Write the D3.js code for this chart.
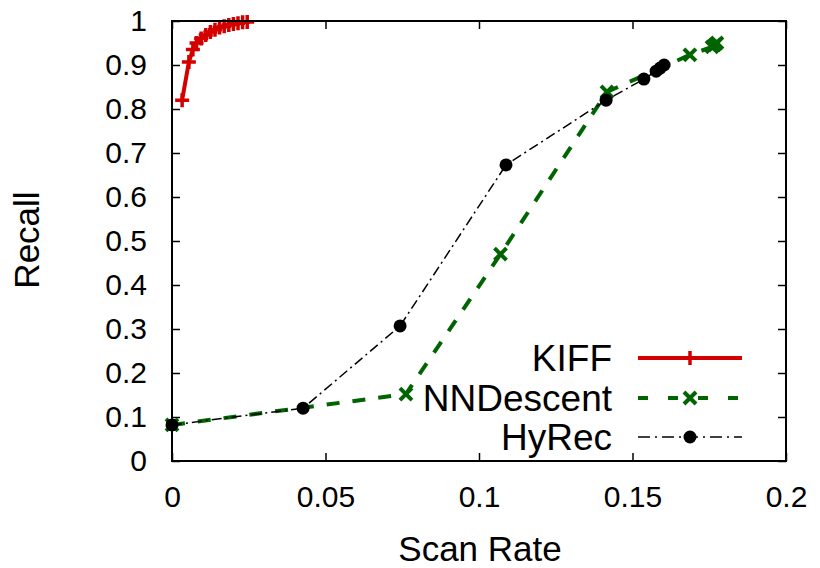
<!DOCTYPE html>
<html><head><meta charset="utf-8">
<script src="https://cdn.jsdelivr.net/npm/d3@7"></script>
<style>body{margin:0;background:#fff}text{font-family:"Liberation Sans",Arial,Helvetica,sans-serif}</style>
</head><body>
<svg id="c" width="820" height="568"></svg>
<script>
const kiffX = [0.0033,0.0055,0.0068,0.008,0.0095,0.011,0.0125,0.014,0.0155,0.017,0.0185,0.02,0.0215,0.023,0.0245];
const kiffY = [0.82,0.907,0.935,0.95,0.96,0.968,0.975,0.98,0.985,0.988,0.991,0.993,0.995,0.997,0.998];
const nndX = [0.0,0.0762,0.107,0.1417,0.1687,0.1759,0.1768,0.1775];
const nndY = [0.082,0.152,0.47,0.839,0.923,0.941,0.946,0.95];
const hyrecX = [0.0,0.0427,0.0743,0.1088,0.1414,0.1537,0.1577,0.159,0.1603];
const hyrecY = [0.082,0.12,0.307,0.673,0.82,0.868,0.886,0.893,0.9];
const xTicks = [0,0.05,0.1,0.15,0.2];
const yTicks = [0,0.1,0.2,0.3,0.4,0.5,0.6,0.7,0.8,0.9,1];
const seriesNames = ["KIFF","NNDescent","HyRec"];

const svg = d3.select("#c");
const L=172,R=786,T=21,B=461;
const x = d3.scaleLinear().domain([0,0.2]).range([L,R]);
const y = d3.scaleLinear().domain([0,1]).range([B,T]);
const fmt = d => String(+d.toFixed(2));

const tl=8;
const g = svg.append("g");
g.append("g").attr("transform",`translate(0,${B})`)
 .call(d3.axisBottom(x).tickValues(xTicks).tickSize(-tl).tickPadding(23).tickFormat(fmt))
 .call(s=>{s.select(".domain").remove();s.selectAll("line").attr("stroke","#000").attr("stroke-width",1.5);
   s.selectAll("text").attr("font-size",30).attr("fill","#000").attr("dy","0.75em");});
g.append("g").attr("transform",`translate(0,${T})`)
 .call(d3.axisTop(x).tickValues(xTicks).tickSize(-tl).tickFormat(""))
 .call(s=>{s.select(".domain").remove();s.selectAll("line").attr("stroke","#000").attr("stroke-width",1.5);});
g.append("g").attr("transform",`translate(${L},0)`)
 .call(d3.axisLeft(y).tickValues(yTicks).tickSize(-tl).tickPadding(25).tickFormat(fmt))
 .call(s=>{s.select(".domain").remove();s.selectAll("line").attr("stroke","#000").attr("stroke-width",1.5);
   s.selectAll("text").attr("font-size",30).attr("fill","#000");});
g.append("g").attr("transform",`translate(${R},0)`)
 .call(d3.axisRight(y).tickValues(yTicks).tickSize(-tl).tickFormat(""))
 .call(s=>{s.select(".domain").remove();s.selectAll("line").attr("stroke","#000").attr("stroke-width",1.5);});

svg.append("text").attr("x",480).attr("y",561).attr("text-anchor","middle").attr("font-size",35).text("Scan Rate");
svg.append("text").attr("transform",`translate(39,${240}) rotate(-90)`).attr("text-anchor","middle").attr("font-size",35).text("Recall");

const red="#d40000", green="#006400", black="#000";
const line = d3.line().x(d=>x(d[0])).y(d=>y(d[1]));
const zip=(a,b)=>a.map((v,i)=>[v,b[i]]);
const kiff=zip(kiffX,kiffY), nnd=zip(nndX,nndY), hy=zip(hyrecX,hyrecY);

const plot = svg.append("g");
function plus(sel,cx,cy,col){sel.append("path").attr("d",`M${cx-7},${cy}H${cx+7}M${cx},${cy-7}V${cy+7}`).attr("stroke",col).attr("stroke-width",3.5).attr("fill","none");}
function cross(sel,cx,cy,col){sel.append("path").attr("d",`M${cx-6},${cy-6}L${cx+6},${cy+6}M${cx-6},${cy+6}L${cx+6},${cy-6}`).attr("stroke",col).attr("stroke-width",4).attr("fill","none");}
function dot(sel,cx,cy,col){sel.append("circle").attr("cx",cx).attr("cy",cy).attr("r",6.5).attr("fill",col);}

plot.append("path").attr("d",line(nnd)).attr("fill","none").attr("stroke",green).attr("stroke-width",4).attr("stroke-dasharray","13,13");
nnd.forEach(d=>cross(plot,x(d[0]),y(d[1]),green));
plot.append("path").attr("d",line(hy)).attr("fill","none").attr("stroke",black).attr("stroke-width",1.5).attr("stroke-dasharray","10,4,2,4");
hy.forEach(d=>dot(plot,x(d[0]),y(d[1]),black));
plot.append("path").attr("d",line(kiff)).attr("fill","none").attr("stroke",red).attr("stroke-width",4);
kiff.forEach(d=>plus(plot,x(d[0]),y(d[1]),red));

svg.append("rect").attr("x",L).attr("y",T).attr("width",R-L).attr("height",B-T).attr("fill","none").attr("stroke","#000").attr("stroke-width",2);

const lg = svg.append("g");
const rows=[{n:seriesNames[0],c:red,w:4,da:null,m:plus,yy:358},
            {n:seriesNames[1],c:green,w:4,da:"10,20",m:cross,yy:398},
            {n:seriesNames[2],c:black,w:1.5,da:"12,5,2,5",m:dot,yy:437}];
rows.forEach(r=>{
  lg.append("text").attr("x",612).attr("y",r.yy).attr("dy","0.35em").attr("text-anchor","end").attr("font-size",37).text(r.n);
  const ln=lg.append("line").attr("x1",638).attr("x2",742).attr("y1",r.yy).attr("y2",r.yy).attr("stroke",r.c).attr("stroke-width",r.w);
  if(r.da) ln.attr("stroke-dasharray",r.da);
  r.m(lg,690,r.yy,r.c);
});
</script>
</body></html>
